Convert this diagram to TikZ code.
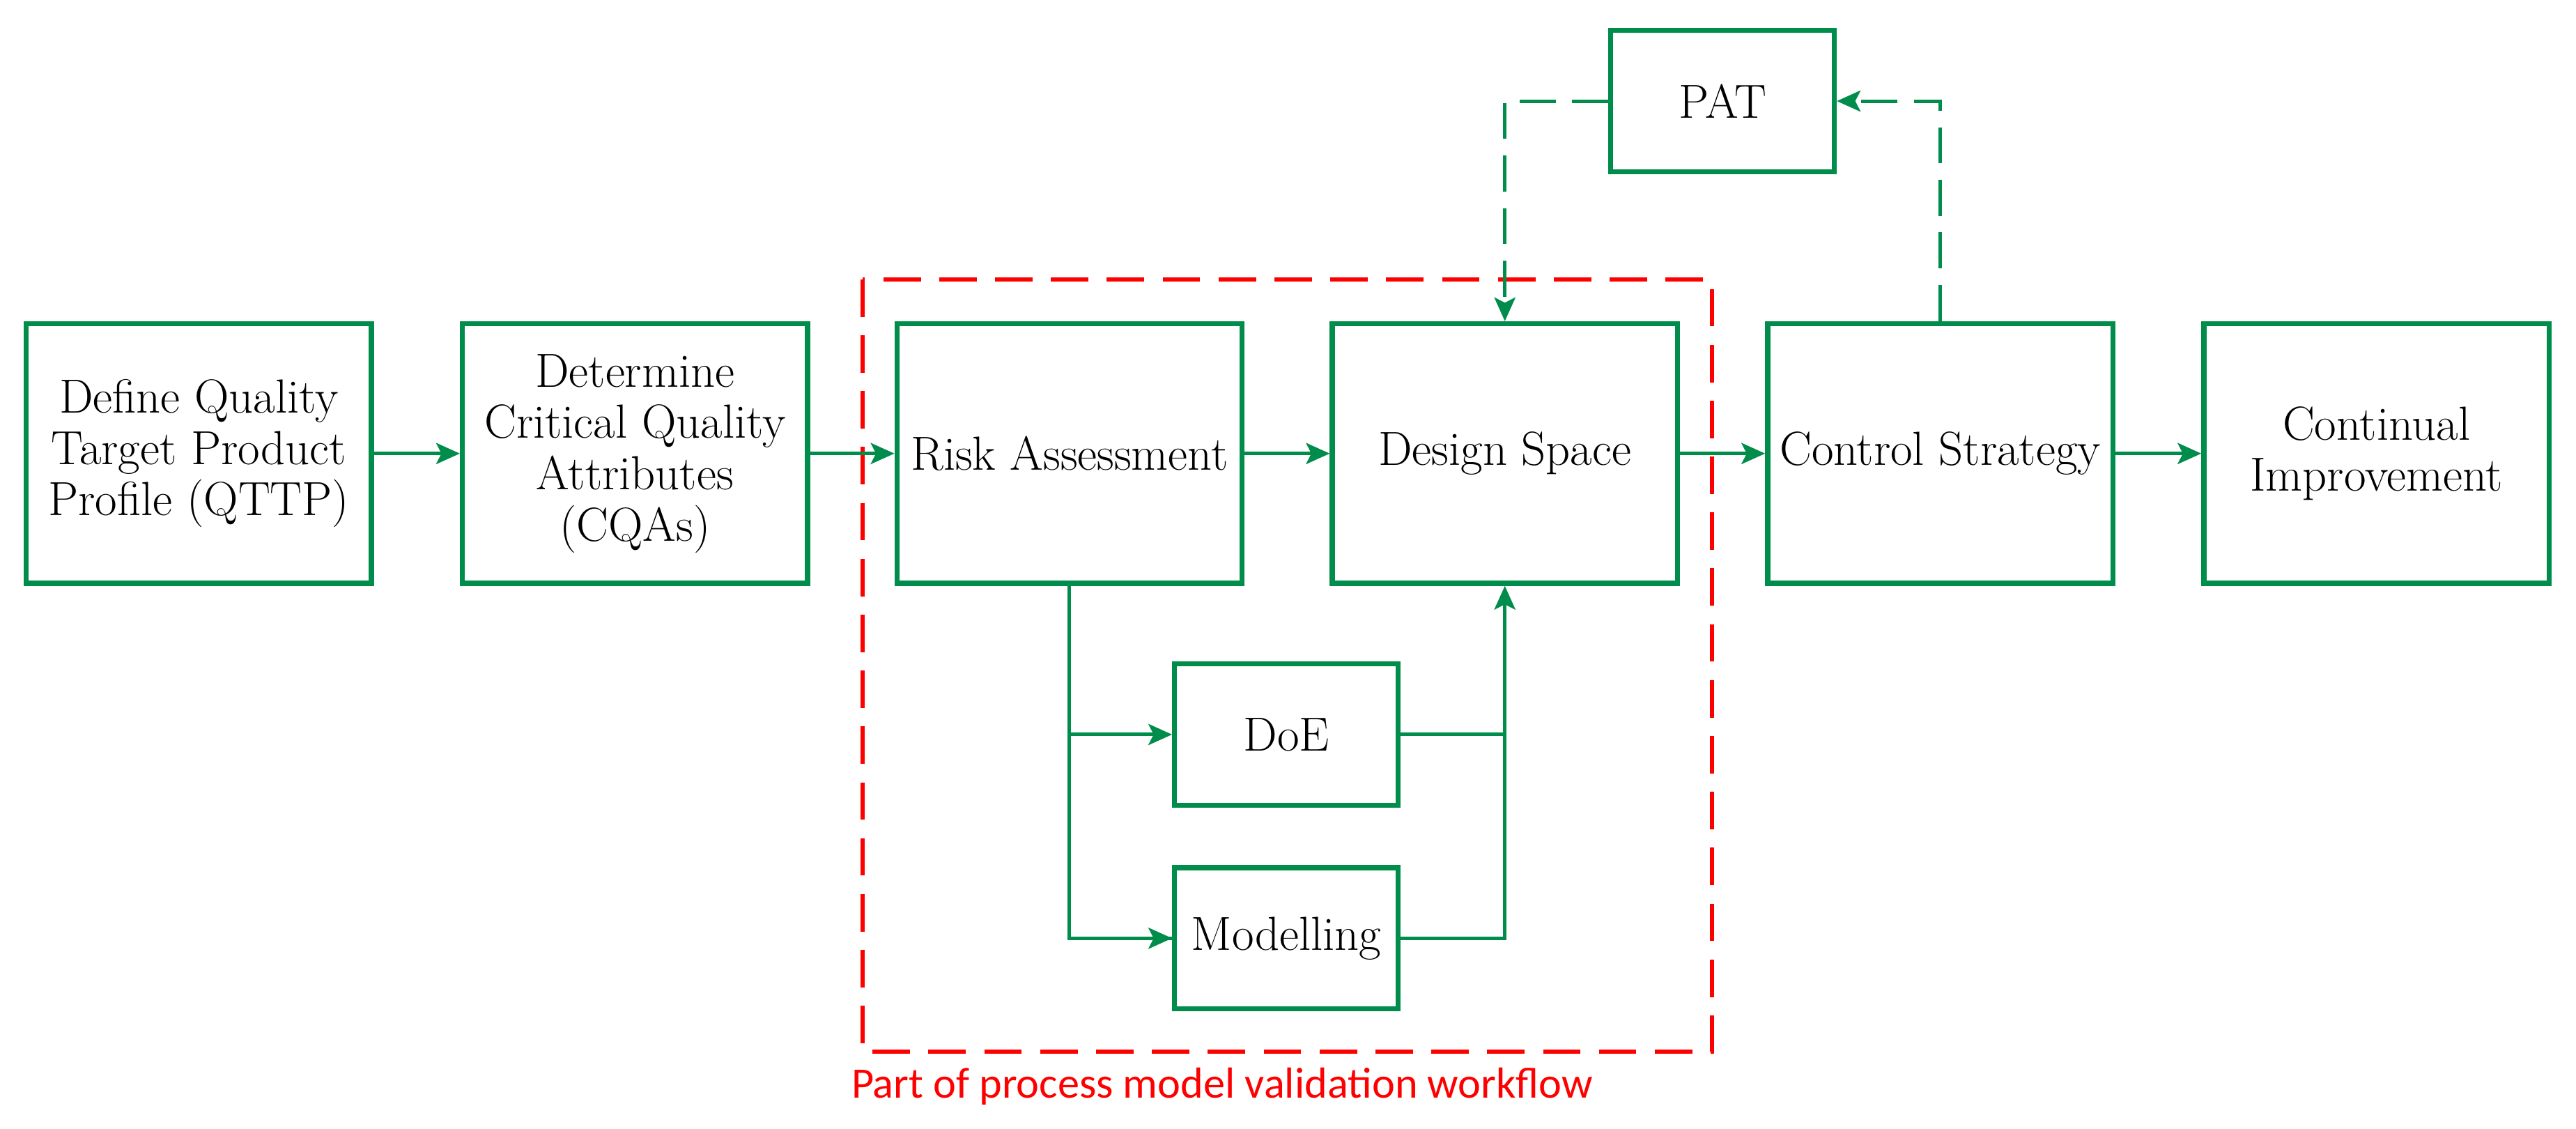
\documentclass[tikz,border=0pt]{standalone}
\usepackage{fontspec}
\newfontfamily\carlito{Carlito}
\usetikzlibrary{arrows.meta}
\definecolor{qgreen}{RGB}{0,140,74}
\definecolor{qred}{RGB}{255,0,0}
\begin{document}
\begin{tikzpicture}[x=0.025cm,y=-0.025cm,
  box/.style={draw=qgreen,line width=2.2pt,minimum width=5.25cm,minimum height=3.95cm,
    inner sep=1pt,align=center,font=\fontsize{20.7}{22.2}\selectfont},
  smallbox/.style={box,minimum width=3.4cm,minimum height=2.15cm},
  conn/.style={draw=qgreen,line width=1.5pt,-{Stealth[length=0.36cm,width=0.32cm,inset=0.08cm]}},
  plain/.style={draw=qgreen,line width=1.5pt},
  dconn/.style={conn,dash pattern=on 0.55cm off 0.25cm},
  redbox/.style={draw=qred,line width=1.7pt,dash pattern=on 0.57cm off 0.28cm}]
\useasboundingbox (0,0) rectangle (1568,687);
\node[box] (q1) at (121,276) {Define Quality\\Target Product\\Profile (QTTP)};
\node[box] (q2) at (386.5,276) {Determine\\Critical Quality\\Attributes\\(CQAs)};
\node[box] (ra) at (651,276) {Risk Assessment};
\node[box] (ds) at (916,276) {Design Space};
\node[box] (cs) at (1181,276) {Control Strategy};
\node[box] (ci) at (1446.5,276) {Continual\\Improvement};
\node[smallbox] (pat) at (1048.5,61.5) {PAT};
\node[smallbox] (doe) at (783,447) {DoE};
\node[smallbox] (mod) at (783,571) {Modelling};
\draw[redbox] (525,170) rectangle (1042,640);
\node[anchor=west,inner sep=0pt,text=qred,font=\carlito\fontsize{18.8}{22}\selectfont] (lbl) at (518,661) {Part of process model validation workflow};
\draw[conn] (q1) -- (q2);
\draw[conn] (q2) -- (ra);
\draw[conn] (ra) -- (ds);
\draw[conn] (ds) -- (cs);
\draw[conn] (cs) -- (ci);
\draw[plain] (ra.south) |- (mod.west);
\draw[conn] (ra.south |- doe.west) -- (doe.west);
\draw[conn] (ra.south |- mod.west) -- (mod.west);
\draw[plain] (doe.east) -- (ds.south |- doe.east);
\draw[conn] (mod.east) -| (ds.south);
\draw[dconn] (pat.west) -| (ds.north);
\draw[dconn] (cs.north) |- (pat.east);
\end{tikzpicture}
\end{document}
